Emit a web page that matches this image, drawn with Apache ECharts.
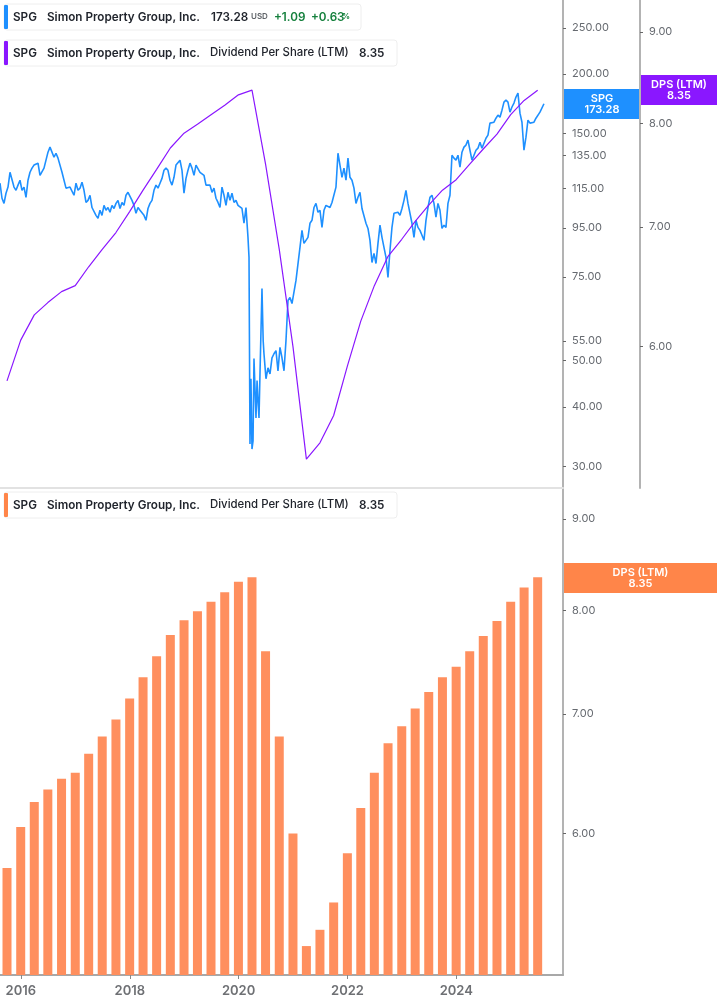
<!DOCTYPE html>
<html lang="en">
<head>
    <meta charset="UTF-8">
    <title>SPG Dividend Per Share</title>
    <style>
        html, body { margin: 0; padding: 0; background: #fff; }
        #main { width: 717px; height: 1005px; }
    </style>
</head>
<body>
<div id="main"></div>
<script src="https://cdn.jsdelivr.net/npm/echarts@6/dist/echarts.min.js"></script>
<script>
// price readings, one every priceStepDays starting at priceStart
var priceStart = '2015-08-14';
var priceStepDays = 13.42;
var priceValues = [
    118.0, 109.7, 107.0, 112.4, 115.8, 124.4, 123.8, 115.8, 114.0, 116.9, 119.7, 114.0, 115.8, 110.2, 119.7, 124.4,
    126.9, 128.8, 128.8, 130.0, 122.6, 122.6, 126.9, 131.9, 137.1, 140.5, 140.5, 133.8, 136.4, 133.2, 133.2, 124.4,
    123.8, 115.2, 115.2, 115.8, 115.2, 111.3, 118.0, 114.0, 115.2, 118.6, 114.0, 107.5, 108.6, 111.3, 104.9, 104.4,
    101.0, 99.6, 103.5, 101.0, 106.0, 103.5, 104.9, 102.5, 106.0, 104.4, 107.0, 108.6, 104.4, 107.5, 106.0, 111.3,
    112.9, 112.4, 108.6, 106.0, 102.0, 104.9, 103.5, 104.4, 101.0, 98.6, 104.4, 107.0, 108.6, 114.0, 116.9, 115.2,
    118.0, 120.8, 125.6, 126.9, 125.6, 119.7, 116.9, 121.4, 128.8, 130.0, 131.9, 125.6, 112.4, 120.8, 125.6, 130.0,
    126.9, 122.6, 128.8, 130.0, 124.4, 123.8, 122.6, 116.9, 115.8, 116.9, 112.9, 115.2, 109.7, 107.5, 104.9, 115.8,
    111.3, 106.0, 112.9, 108.6, 112.4, 107.5, 108.6, 106.0, 107.0, 104.4, 97.2, 104.9, 90.8, 33.4, 32.6, 50.5,
    37.9, 41.2, 46.9, 70.9, 51.7, 45.8, 48.3, 46.9, 50.7, 51.7, 52.5, 47.6, 53.3, 50.7, 47.6, 55.1,
    66.9, 67.9, 65.9, 65.3, 73.7, 73.7, 86.5, 93.9, 88.2, 89.5, 90.8, 97.2, 98.6, 104.9, 107.0, 102.5,
    103.5, 95.3, 103.5, 106.0, 107.0, 104.9, 107.5, 107.0, 115.8, 136.4, 136.4, 121.4, 126.9, 119.7, 133.2, 121.4,
    119.7, 115.2, 107.0, 110.2, 112.9, 104.4, 104.4, 97.2, 94.8, 89.5, 80.4, 84.0, 80.0, 88.2, 96.3, 90.8,
    86.5, 82.4, 74.8, 85.2, 95.3, 102.0, 102.0, 102.5, 101.0, 104.4, 108.6, 114.0, 107.0, 107.0, 97.2, 90.8,
    98.6, 95.3, 93.9, 91.7, 89.5, 98.6, 104.9, 110.2, 111.3, 107.0, 100.1, 107.0, 103.5, 94.8, 96.3, 95.3,
    107.0, 111.3, 135.1, 133.2, 131.9, 135.1, 127.5, 137.1, 140.5, 141.9, 145.3, 138.4, 131.9, 135.1, 138.4, 139.8,
    143.9, 139.8, 143.2, 146.7, 148.9, 157.8, 157.8, 158.5, 161.6, 164.0, 162.4, 168.0, 174.7, 176.4, 174.7, 166.4,
    170.6, 173.9, 179.0, 182.4, 165.6, 158.5, 138.4, 147.4, 160.1, 157.8, 158.5, 158.5, 161.6, 162.4, 166.4, 168.0,
    173.28
];

// extra readings for spring 2020, the line moves too fast there for the step above
var crashDates = ['2020-03-11', '2020-03-24', '2020-04-07', '2020-04-21', '2020-05-04', '2020-05-17', '2020-05-31', '2020-06-14'];
var crashValues = [82.4, 45.8, 33.9, 50.7, 45.4, 37.9, 46.9, 55.1];

// dividend per share (LTM), quarter ends
var dpsDates = [
    '2015-09-30', '2015-12-31', '2016-03-31', '2016-06-30', '2016-09-30', '2016-12-31', '2017-03-31', '2017-06-30',
    '2017-09-30', '2017-12-31', '2018-03-31', '2018-06-30', '2018-09-30', '2018-12-31', '2019-03-31', '2019-06-30',
    '2019-09-30', '2019-12-31', '2020-03-31', '2020-06-30', '2020-09-30', '2020-12-31', '2021-03-31', '2021-06-30',
    '2021-09-30', '2021-12-31', '2022-03-31', '2022-06-30', '2022-09-30', '2022-12-31', '2023-03-31', '2023-06-30',
    '2023-09-30', '2023-12-31', '2024-03-31', '2024-06-30', '2024-09-30', '2024-12-31', '2025-03-31', '2025-06-30'
];
var dpsValues = [
    5.74, 6.05, 6.25, 6.35, 6.44, 6.49, 6.65, 6.80,
    6.95, 7.14, 7.34, 7.54, 7.75, 7.90, 7.99, 8.09,
    8.19, 8.30, 8.35, 7.59, 6.80, 6.00, 5.19, 5.30,
    5.49, 5.85, 6.20, 6.49, 6.74, 6.89, 7.05, 7.20,
    7.34, 7.44, 7.59, 7.74, 7.89, 8.09, 8.24, 8.35
];

var priceTicks = [30, 40, 50, 55, 75, 95, 115, 135, 150, 200, 250];
var dpsTicks = [6, 7, 8, 9];
var yearTicks = ['2016-01-01', '2018-01-01', '2020-01-01', '2022-01-01', '2024-01-01'];

var xMin = '2015-08-14';
var xMax = '2025-12-17';

var BLUE = '#1e90ff', PURPLE = '#8a17ff', ORANGE = '#ff8549';
var FONT = 'Inter, "Noto Sans", sans-serif';

function ts(d) {
    return new Date(d).getTime();
}

var priceData = priceValues.map(function (v, i) {
    return [ts(priceStart) + i * priceStepDays * 86400000, v];
});
crashValues.forEach(function (v, i) {
    priceData.push([ts(crashDates[i]), v]);
});
priceData.sort(function (a, b) { return a[0] - b[0]; });

var dpsData = dpsValues.map(function (v, i) {
    return [ts(dpsDates[i]), v];
});
var yearTickValues = yearTicks.map(ts);

function yAxis(gridIndex, min, max, ticks, offset) {
    return {
        type: 'log',
        gridIndex: gridIndex,
        position: 'right',
        offset: offset,
        min: min,
        max: max,
        splitLine: {show: false},
        axisLine: {show: true, onZero: false, lineStyle: {color: '#b3b3b3', width: 2}},
        axisTick: {show: true, length: 3, customValues: ticks, lineStyle: {color: '#666', width: 1}},
        axisLabel: {
            show: true,
            customValues: ticks,
            margin: 9,
            padding: [3, 0, 0, 0],
            color: '#666a70',
            fontFamily: FONT,
            fontSize: 11,
            formatter: function (v) { return Number(v).toFixed(2); }
        }
    };
}

// box with the coloured strip on the left, texts are [x, string, colour, size, weight]
function legendBox(y, width, color, texts) {
    var kids = [
        {type: 'rect', shape: {x: 4, y: y, width: width, height: 26, r: 3},
            style: {fill: '#fff', stroke: '#eeeeee', lineWidth: 1}},
        {type: 'rect', shape: {x: 4, y: y + 1, width: 4, height: 24, r: 1}, style: {fill: color}}
    ];
    texts.forEach(function (t) {
        kids.push({type: 'text', x: t[0], y: y + 13, style: {
            text: t[1], fontFamily: FONT, fontSize: t[3] || 11.7, fontWeight: t[4] || 600,
            fill: t[2] || '#20242c', verticalAlign: 'middle'
        }});
    });
    return {type: 'group', children: kids};
}

function flag(x, y, width, color, name, value) {
    return {type: 'group', children: [
        {type: 'rect', shape: {x: x, y: y, width: width, height: 30}, style: {fill: color}},
        {type: 'text', x: x + width / 2, y: y + 15, style: {
            text: name + '\n' + value, fontFamily: FONT, fontSize: 11, fontWeight: 600, lineHeight: 11,
            fill: '#fff', align: 'center', verticalAlign: 'middle'
        }}
    ]};
}

var myChart = echarts.init(document.getElementById('main'));

var option = {
    animation: false,
    backgroundColor: '#fff',
    grid: [
        {left: 0, top: 0, width: 563, height: 488},
        {left: 0, top: 488, width: 563, height: 487}
    ],
    xAxis: [
        {
            type: 'value', gridIndex: 0, min: ts(xMin), max: ts(xMax), scale: true,
            splitLine: {show: false},
            axisLine: {show: true, onZero: false, lineStyle: {color: '#e2e2e2', width: 2}},
            axisTick: {show: false},
            axisLabel: {show: false}
        },
        {
            type: 'value', gridIndex: 1, min: ts(xMin), max: ts(xMax), scale: true,
            splitLine: {show: false},
            axisLine: {show: true, onZero: false, lineStyle: {color: '#a8a8a8', width: 2}},
            axisTick: {show: true, length: 4, customValues: yearTickValues, lineStyle: {color: '#888'}},
            axisLabel: {
                show: true,
                customValues: yearTickValues,
                margin: 10,
                color: '#6e7074',
                fontFamily: FONT,
                fontSize: 13,
                fontWeight: 600,
                formatter: function (v) { return String(new Date(v).getUTCFullYear()); }
            }
        }
    ],
    yAxis: [
        yAxis(0, 27, 286.3, priceTicks, 0),
        yAxis(0, 5, 9.379, dpsTicks, 77),
        yAxis(1, 5, 9.367, dpsTicks, 0)
    ],
    series: [
        {
            name: 'SPG', type: 'line', xAxisIndex: 0, yAxisIndex: 0, data: priceData,
            showSymbol: false, silent: true,
            lineStyle: {color: BLUE, width: 1.6}
        },
        {
            name: 'DPS (LTM)', type: 'line', xAxisIndex: 0, yAxisIndex: 1, data: dpsData,
            showSymbol: false, silent: true,
            lineStyle: {color: PURPLE, width: 1.2}
        },
        {
            name: 'DPS (LTM)', type: 'bar', xAxisIndex: 1, yAxisIndex: 2, data: dpsData,
            barWidth: 9, silent: true,
            itemStyle: {color: '#ff8f5e'}
        }
    ],
    graphic: [
        legendBox(4, 357, BLUE, [
            [13, 'SPG'], [47, 'Simon Property Group, Inc.'], [211, '173.28'],
            [251, 'USD', '#5f6368', 8], [274, '+1.09', '#15803d'], [311, '+0.63', '#15803d'], [342, '%', '#15803d', 8]
        ]),
        legendBox(40, 393, PURPLE, [
            [13, 'SPG'], [47, 'Simon Property Group, Inc.'], [210, 'Dividend Per Share (LTM)', '#20242c', 11.4, 500], [359, '8.35']
        ]),
        legendBox(492, 393, ORANGE, [
            [13, 'SPG'], [47, 'Simon Property Group, Inc.'], [210, 'Dividend Per Share (LTM)', '#20242c', 11.4, 500], [359, '8.35']
        ]),
        flag(564, 89, 76, BLUE, 'SPG', '173.28'),
        flag(641, 75, 76, PURPLE, 'DPS (LTM)', '8.35'),
        flag(564, 563, 153, ORANGE, 'DPS (LTM)', '8.35')
    ]
};

myChart.setOption(option);
</script>
</body>
</html>
